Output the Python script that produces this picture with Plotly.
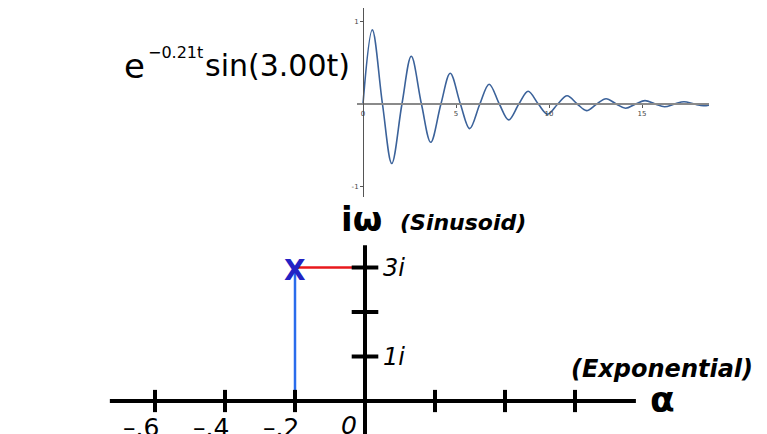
import plotly.graph_objects as go

# ---------------- data ----------------
# damped sinusoid e^{-0.21t} sin(3t): zero crossings and extrema
curve_t = [0, 0.500, 1.047, 1.547, 2.094, 2.595, 3.142, 3.642, 4.189, 4.689, 5.236, 5.736,
           6.283, 6.783, 7.330, 7.831, 8.378, 8.878, 9.425, 9.925, 10.472, 10.972, 11.519,
           12.019, 12.566, 13.067, 13.614, 14.114, 14.661, 15.161, 15.708, 16.208, 16.755,
           17.255, 17.802, 18.303, 18.6]
curve_y = [0, 0.898, 0, -0.721, 0, 0.578, 0, -0.464, 0, 0.373, 0, -0.299,
           0, 0.240, 0, -0.193, 0, 0.155, 0, -0.124, 0, 0.100, 0,
           -0.080, 0, 0.064, 0, -0.052, 0, 0.041, 0, -0.033, 0,
           0.027, 0, -0.021, -0.013]
top_xticks = [0, 5, 10, 15]
top_yticks = [1, -1]
top_ytick_labels = ["1", "-1"]

# complex plane
re_ticks = [-0.6, -0.4, -0.2, 0.2, 0.4, 0.6]
re_label_vals = [-0.6, -0.4, -0.2]
re_labels = ["\u2013.6", "\u2013.4", "\u2013.2"]
im_ticks = [1, 2, 3]
im_label_vals = [1, 3]
im_labels = ["1i", "3i"]
pole_re = -0.2
pole_im = 3.0
re_axis_extent = [-0.729, 0.774]
im_axis_extent = [-1.0, 3.5]

W, H = 767, 434
OFF = 8  # page body margin: screen px -> figure px
FONT = "DejaVu Sans"


def px(x):
    return (x - OFF) / W


def py(y):
    return 1 - (y - OFF) / H


fig = go.Figure()

# ---------------- top plot ----------------
fig.add_trace(go.Scatter(x=curve_t, y=curve_y, mode="lines",
                         line=dict(color="#3b629a", width=1.6, shape="spline", smoothing=1.0),
                         xaxis="x", yaxis="y", hoverinfo="skip", showlegend=False))

# ---------------- complex plane ----------------
fig.add_trace(go.Scatter(x=[pole_re, 0], y=[pole_im, pole_im], mode="lines",
                         line=dict(color="#e8181c", width=2.5),
                         xaxis="x2", yaxis="y2", hoverinfo="skip", showlegend=False))
fig.add_trace(go.Scatter(x=[pole_re, pole_re], y=[0, pole_im], mode="lines",
                         line=dict(color="#2a6cec", width=2.5),
                         xaxis="x2", yaxis="y2", hoverinfo="skip", showlegend=False))

shapes = []
shapes.append(dict(type="line", xref="x2", yref="y2", x0=re_axis_extent[0], x1=re_axis_extent[1],
                   y0=0, y1=0, line=dict(color="black", width=4), layer="above"))
shapes.append(dict(type="line", xref="x2", yref="y2", x0=0, x1=0,
                   y0=im_axis_extent[0], y1=im_axis_extent[1], line=dict(color="black", width=4), layer="above"))
for r in re_ticks:
    shapes.append(dict(type="line", xref="x2", yref="y2", x0=r, x1=r, y0=-0.25, y1=0.25,
                       line=dict(color="black", width=4), layer="above"))
for m in im_ticks:
    shapes.append(dict(type="line", xref="x2", yref="y2", x0=-0.038, x1=0.038, y0=m, y1=m,
                       line=dict(color="black", width=4), layer="above"))

ann = []
# pole marker
ann.append(dict(x=pole_re, y=pole_im, xref="x2", yref="y2", text="<b>X</b>", showarrow=False,
                font=dict(family=FONT, size=28, color="#2222c4"), xanchor="center", yanchor="middle",
                yshift=-3))
for v, lab in zip(re_label_vals, re_labels):
    ann.append(dict(x=v - 0.04, y=-0.6, xref="x2", yref="y2", text=lab, showarrow=False,
                    font=dict(family=FONT, size=25, color="black"), xanchor="center", yanchor="middle"))
ann.append(dict(x=-0.045, y=-0.55, xref="x2", yref="y2", text="<i>0</i>", showarrow=False,
                font=dict(family=FONT, size=25, color="black"), xanchor="center", yanchor="middle"))
for v, lab in zip(im_label_vals, im_labels):
    ann.append(dict(x=0.045, y=v, xref="x2", yref="y2", text="<i>" + lab + "</i>", showarrow=False,
                    font=dict(family=FONT, size=24, color="black"), xanchor="left", yanchor="middle"))

ann.append(dict(x=px(361), y=py(219), xref="paper", yref="paper", text="<b>i\u03c9</b>",
                showarrow=False, font=dict(family=FONT, size=34, color="black"),
                xanchor="center", yanchor="middle"))
ann.append(dict(x=px(398), y=py(222), xref="paper", yref="paper", text="<b><i>(Sinusoid)</i></b>",
                showarrow=False, font=dict(family=FONT, size=22, color="black"),
                xanchor="left", yanchor="middle"))
ann.append(dict(x=px(569), y=py(369), xref="paper", yref="paper", text="<b><i>(Exponential)</i></b>",
                showarrow=False, font=dict(family=FONT, size=24, color="black"),
                xanchor="left", yanchor="middle"))
ann.append(dict(x=px(662), y=py(399), xref="paper", yref="paper", text="<b>\u03b1</b>",
                showarrow=False, font=dict(family=FONT, size=36, color="black"),
                xanchor="center", yanchor="middle"))

ann.append(dict(x=px(122), y=py(66), xref="paper", yref="paper", text="e",
                showarrow=False, font=dict(family=FONT, size=34, color="black"),
                xanchor="left", yanchor="middle"))
ann.append(dict(x=px(146), y=py(52), xref="paper", yref="paper", text="\u22120.21t",
                showarrow=False, font=dict(family=FONT, size=16, color="black"),
                xanchor="left", yanchor="middle"))
ann.append(dict(x=px(203), y=py(65), xref="paper", yref="paper", text="sin(3.00t)",
                showarrow=False, font=dict(family=FONT, size=30, color="black"),
                xanchor="left", yanchor="middle"))

# ---------------- layout ----------------
top_x0, top_x1 = 357, 709          # screen pixel extent of top plot
top_y_zero, ppu_y = 104, 82.5
top_t_zero, ppu_t = 363, 18.6
top_y_bottom = 197

# complex plane screen mapping
cz_x, cz_y = 365, 401
ppu_re, ppu_im = 350, 44.5

fig.update_layout(
    width=W, height=H,
    margin=dict(l=0, r=0, t=0, b=0),
    paper_bgcolor="white", plot_bgcolor="rgba(0,0,0,0)",
    showlegend=False,
    shapes=shapes,
    annotations=ann,
    xaxis=dict(domain=[px(top_x0), px(top_x1)],
               range=[(top_x0 - top_t_zero) / ppu_t, (top_x1 - top_t_zero) / ppu_t],
               anchor="free", position=py(top_y_zero),
               showgrid=False, zeroline=False, showline=True, linecolor="#8a8a8a", linewidth=1.6,
               tickmode="array", tickvals=top_xticks, ticks="outside", ticklen=3, tickcolor="#555",
               tickfont=dict(family=FONT, size=7, color="#444"), fixedrange=True),
    yaxis=dict(domain=[py(top_y_bottom), 1],
               range=[-(top_y_bottom - top_y_zero) / ppu_y, (top_y_zero - OFF) / ppu_y],
               anchor="free", position=px(top_t_zero),
               showgrid=False, zeroline=False, showline=True, linecolor="#555", linewidth=1,
               tickmode="array", tickvals=top_yticks, ticktext=top_ytick_labels,
               ticks="outside", ticklen=3, tickcolor="#555",
               tickfont=dict(family=FONT, size=7, color="#444"), fixedrange=True),
    xaxis2=dict(domain=[0, 1], range=[(OFF - cz_x) / ppu_re, (OFF + W - cz_x) / ppu_re], anchor="y2",
                visible=False, fixedrange=True),
    yaxis2=dict(domain=[0, 1], range=[(cz_y - OFF - H) / ppu_im, (cz_y - OFF) / ppu_im], anchor="x2",
                visible=False, fixedrange=True),
)

fig.write_html("out.html")
